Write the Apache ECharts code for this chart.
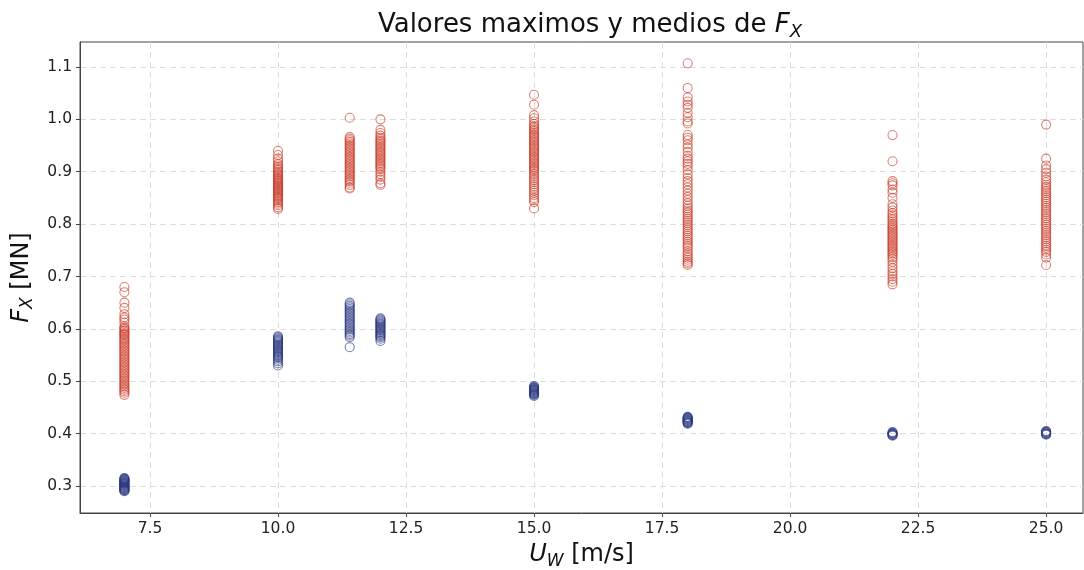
<!DOCTYPE html>
<html>
<head>
<meta charset="utf-8">
<script src="https://cdn.jsdelivr.net/npm/echarts@6/dist/echarts.min.js"></script>
<style>
  html, body { margin: 0; padding: 0; background: #fff; }
  #chart { width: 1084px; height: 570px; }
</style>
</head>
<body>
<div id="chart"></div>
<script>
// Wind speeds (m/s) at which loads were sampled
const windSpeeds = [7, 10, 11.4, 12, 15, 18, 22, 25];

// Maximum F_X per realisation [MN], one array per wind speed
const fxMax7 = [0.680, 0.670, 0.650, 0.640, 0.628, 0.622, 0.618, 0.612, 0.605, 0.602, 0.600, 0.597, 0.595, 0.592, 0.590, 0.588, 0.585, 0.582, 0.580, 0.577, 0.574, 0.571, 0.568, 0.565, 0.562, 0.559, 0.556, 0.553, 0.550, 0.547, 0.544, 0.541, 0.538, 0.535, 0.532, 0.529, 0.526, 0.523, 0.520, 0.517, 0.514, 0.511, 0.508, 0.505, 0.502, 0.499, 0.496, 0.493, 0.490, 0.487, 0.484, 0.481, 0.478, 0.474];
const fxMax10 = [0.940, 0.932, 0.925, 0.920, 0.915, 0.912, 0.909, 0.906, 0.903, 0.900, 0.898, 0.895, 0.893, 0.890, 0.888, 0.886, 0.884, 0.882, 0.880, 0.878, 0.876, 0.874, 0.872, 0.870, 0.868, 0.866, 0.864, 0.862, 0.860, 0.858, 0.856, 0.854, 0.852, 0.850, 0.848, 0.845, 0.842, 0.839, 0.836, 0.832, 0.829];
const fxMax11_4 = [1.003, 0.966, 0.963, 0.960, 0.957, 0.954, 0.951, 0.948, 0.945, 0.942, 0.939, 0.936, 0.933, 0.930, 0.927, 0.924, 0.921, 0.918, 0.915, 0.912, 0.909, 0.906, 0.903, 0.900, 0.897, 0.894, 0.891, 0.888, 0.885, 0.882, 0.879, 0.875, 0.870, 0.868];
const fxMax12 = [1.000, 0.980, 0.974, 0.969, 0.965, 0.962, 0.959, 0.956, 0.953, 0.950, 0.947, 0.944, 0.941, 0.938, 0.935, 0.932, 0.929, 0.926, 0.923, 0.920, 0.917, 0.914, 0.911, 0.908, 0.905, 0.900, 0.895, 0.890, 0.885, 0.878, 0.875];
const fxMax15 = [1.047, 1.028, 1.008, 1.002, 0.996, 0.991, 0.987, 0.984, 0.981, 0.978, 0.975, 0.972, 0.969, 0.966, 0.963, 0.960, 0.957, 0.954, 0.951, 0.948, 0.945, 0.942, 0.939, 0.936, 0.933, 0.930, 0.927, 0.924, 0.921, 0.918, 0.915, 0.912, 0.909, 0.906, 0.903, 0.900, 0.896, 0.892, 0.888, 0.884, 0.880, 0.876, 0.872, 0.868, 0.864, 0.860, 0.855, 0.850, 0.846, 0.842, 0.830];
const fxMax18 = [1.107, 1.060, 1.042, 1.034, 1.028, 1.022, 1.012, 1.004, 0.996, 0.992, 0.970, 0.965, 0.960, 0.952, 0.946, 0.938, 0.930, 0.925, 0.920, 0.915, 0.910, 0.903, 0.895, 0.888, 0.882, 0.876, 0.870, 0.864, 0.858, 0.852, 0.846, 0.840, 0.835, 0.830, 0.826, 0.822, 0.818, 0.814, 0.810, 0.806, 0.802, 0.798, 0.794, 0.790, 0.786, 0.782, 0.778, 0.774, 0.770, 0.766, 0.762, 0.758, 0.754, 0.748, 0.744, 0.740, 0.736, 0.732, 0.728, 0.725, 0.722];
const fxMax22 = [0.970, 0.920, 0.882, 0.878, 0.874, 0.866, 0.860, 0.850, 0.838, 0.832, 0.826, 0.821, 0.817, 0.813, 0.809, 0.805, 0.801, 0.798, 0.795, 0.792, 0.789, 0.786, 0.783, 0.780, 0.777, 0.774, 0.771, 0.768, 0.765, 0.762, 0.759, 0.756, 0.753, 0.750, 0.747, 0.744, 0.741, 0.737, 0.733, 0.728, 0.722, 0.716, 0.710, 0.705, 0.700, 0.695, 0.690, 0.685];
const fxMax25 = [0.990, 0.925, 0.912, 0.905, 0.898, 0.891, 0.885, 0.880, 0.875, 0.871, 0.867, 0.863, 0.859, 0.855, 0.851, 0.847, 0.843, 0.839, 0.835, 0.831, 0.827, 0.823, 0.819, 0.815, 0.811, 0.807, 0.803, 0.799, 0.795, 0.791, 0.787, 0.783, 0.779, 0.775, 0.771, 0.767, 0.763, 0.759, 0.755, 0.751, 0.747, 0.742, 0.736, 0.722];

// Mean F_X per realisation [MN], one array per wind speed
const fxMean7 = [0.315, 0.314, 0.313, 0.312, 0.311, 0.310, 0.309, 0.308, 0.307, 0.306, 0.305, 0.304, 0.303, 0.302, 0.301, 0.300, 0.299, 0.298, 0.297, 0.296, 0.295, 0.294, 0.293, 0.292, 0.291, 0.290];
const fxMean10 = [0.586, 0.584, 0.582, 0.580, 0.578, 0.576, 0.574, 0.572, 0.570, 0.568, 0.566, 0.564, 0.562, 0.560, 0.558, 0.556, 0.554, 0.552, 0.550, 0.548, 0.546, 0.544, 0.541, 0.538, 0.534, 0.530];
const fxMean11_4 = [0.650, 0.647, 0.644, 0.641, 0.638, 0.635, 0.632, 0.629, 0.626, 0.623, 0.620, 0.617, 0.614, 0.611, 0.608, 0.605, 0.602, 0.599, 0.596, 0.593, 0.590, 0.587, 0.584, 0.565];
const fxMean12 = [0.620, 0.618, 0.616, 0.614, 0.612, 0.610, 0.608, 0.606, 0.604, 0.602, 0.600, 0.598, 0.596, 0.594, 0.592, 0.590, 0.588, 0.586, 0.584, 0.581, 0.577];
const fxMean15 = [0.491, 0.489, 0.488, 0.487, 0.486, 0.485, 0.484, 0.483, 0.482, 0.481, 0.480, 0.479, 0.478, 0.477, 0.476, 0.475, 0.474, 0.472];
const fxMean18 = [0.432, 0.431, 0.430, 0.429, 0.428, 0.427, 0.426, 0.425, 0.424, 0.423, 0.422, 0.421, 0.420, 0.419];
const fxMean22 = [0.403, 0.402, 0.401, 0.400, 0.399, 0.398, 0.397, 0.396];
const fxMean25 = [0.405, 0.404, 0.403, 0.402, 0.401, 0.400, 0.399, 0.398];

// Tick positions on both axes
const xTicks = [7.5, 10, 12.5, 15, 17.5, 20, 22.5, 25];
const yTicks = [0.3, 0.4, 0.5, 0.6, 0.7, 0.8, 0.9, 1.0, 1.1];

const fxMaxGroups = [fxMax7, fxMax10, fxMax11_4, fxMax12, fxMax15, fxMax18, fxMax22, fxMax25];
const fxMeanGroups = [fxMean7, fxMean10, fxMean11_4, fxMean12, fxMean15, fxMean18, fxMean22, fxMean25];

function toPoints(groups) {
  const pts = [];
  groups.forEach((vals, i) => vals.forEach(v => pts.push([windSpeeds[i], v])));
  return pts;
}

const FONT = 'DejaVu Sans';
const RED = 'rgba(204, 60, 40, 0.8)';
const BLUE = 'rgba(44, 58, 130, 0.8)';

// Rich-text styles shared by the title and axis names (italic symbol + subscript)
function richStyles(size) {
  return {
    n: { fontFamily: FONT, fontSize: size, fontWeight: 'normal', color: '#111' },
    i: { fontFamily: FONT, fontSize: size, fontWeight: 'normal', fontStyle: 'italic', color: '#111' },
    s: { fontFamily: FONT, fontSize: Math.round(size * 0.7), fontWeight: 'normal', fontStyle: 'italic', color: '#111', padding: [Math.round(size * 0.55), 0, 0, 0] }
  };
}

const chart = echarts.init(document.getElementById('chart'), null, { renderer: 'canvas' });

chart.setOption({
  animation: false,
  backgroundColor: '#fff',
  title: {
    text: '{n|Valores maximos y medios de }{i|F}{s|X}',
    left: 585,
    textAlign: 'center',
    top: 4,
    textStyle: { fontWeight: 'normal', rich: richStyles(26) }
  },
  grid: {
    left: 80, right: 1, top: 42, bottom: 57,
    containLabel: false,
    outerBoundsMode: 'none',
    show: true, borderColor: '#444', borderWidth: 1, backgroundColor: 'transparent'
  },
  xAxis: {
    type: 'value',
    min: 6.133, max: 25.72,
    name: '{i|U}{s|W}{n| [m/s]}',
    nameLocation: 'middle',
    nameGap: 27,
    nameTextStyle: { rich: richStyles(24) },
    axisLine: { show: true, onZero: false, lineStyle: { color: '#444', width: 1 } },
    axisTick: { show: true, inside: false, length: 4, customValues: xTicks, lineStyle: { color: '#444' } },
    axisLabel: {
      customValues: xTicks,
      formatter: v => v.toFixed(1),
      fontFamily: FONT, fontSize: 15.5, color: '#222', margin: 8
    },
    splitLine: { show: true, lineStyle: { color: '#ddd', type: [6, 4], width: 1 } }
  },
  yAxis: {
    type: 'value',
    min: 0.2484, max: 1.1477,
    name: '{i|F}{s|X}{n| [MN]}',
    nameLocation: 'middle',
    nameRotate: 90,
    nameGap: 42,
    nameTextStyle: { rich: richStyles(24) },
    axisLine: { show: true, onZero: false, lineStyle: { color: '#444', width: 1 } },
    axisTick: { show: true, inside: false, length: 4, customValues: yTicks, lineStyle: { color: '#444' } },
    axisLabel: {
      customValues: yTicks,
      formatter: v => v.toFixed(1),
      fontFamily: FONT, fontSize: 15.5, color: '#222', margin: 8
    },
    splitLine: { show: true, lineStyle: { color: '#ddd', type: [6, 4], width: 1 } }
  },
  series: [
    {
      name: 'max',
      type: 'scatter',
      data: toPoints(fxMaxGroups),
      symbol: 'circle',
      symbolSize: 9,
      itemStyle: { color: 'rgba(255,255,255,0)', borderColor: RED, borderWidth: 1.1 }
    },
    {
      name: 'medio',
      type: 'scatter',
      data: toPoints(fxMeanGroups),
      symbol: 'circle',
      symbolSize: 9,
      itemStyle: { color: 'rgba(255,255,255,0)', borderColor: BLUE, borderWidth: 1.1 }
    }
  ]
});
</script>
</body>
</html>
